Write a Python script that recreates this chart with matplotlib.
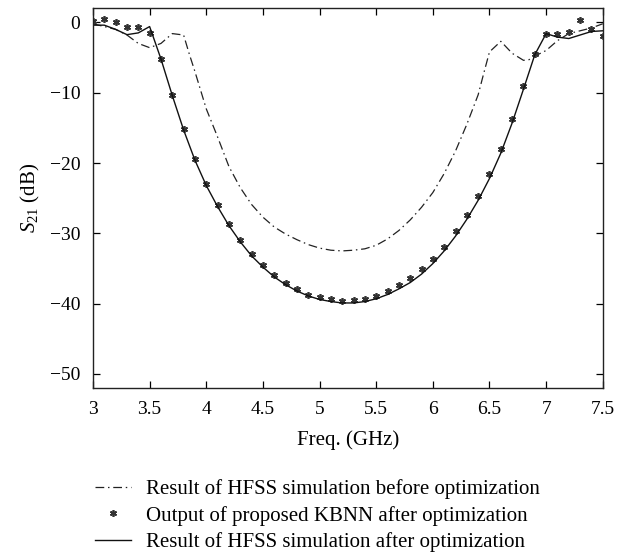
import matplotlib
matplotlib.use("Agg")
import matplotlib.pyplot as plt
import numpy as np

plt.rcParams['font.family'] = ['Liberation Serif', 'DejaVu Serif']
plt.rcParams['mathtext.fontset'] = 'custom'
plt.rcParams['mathtext.rm'] = 'Liberation Serif'
plt.rcParams['mathtext.it'] = 'Liberation Serif:italic'

# Before optimization (HFSS)
freq_before = [3.0, 3.1, 3.2, 3.3, 3.4, 3.5, 3.6, 3.7, 3.8, 3.85, 3.9, 4.0, 4.1, 4.2, 4.3, 4.4,
               4.5, 4.6, 4.7, 4.8, 4.9, 5.0, 5.1, 5.2, 5.3, 5.4, 5.5, 5.6, 5.7, 5.8, 5.9,
               6.0, 6.1, 6.2, 6.3, 6.4, 6.45, 6.5, 6.6, 6.7, 6.8, 6.85, 6.9, 7.0, 7.1, 7.2,
               7.3, 7.4, 7.5]
s21_before = [-0.2, -0.6, -1.0, -1.8, -3.0, -3.6, -3.0, -1.6, -1.8, -4.5, -7.0, -12.3, -16.3,
              -20.5, -23.5, -25.9, -27.7, -29.1, -30.1, -30.9, -31.6, -32.1, -32.4, -32.5,
              -32.4, -32.2, -31.7, -30.8, -29.6, -28.1, -26.3, -24.2, -21.5, -18.3, -14.5,
              -10.3, -7.2, -4.2, -2.7, -4.4, -5.4, -5.3, -4.8, -4.0, -2.6, -1.6, -1.2,
              -0.8, -0.2]

# KBNN output after optimization
freq_kbnn = [3.0, 3.1, 3.2, 3.3, 3.4, 3.5, 3.6, 3.7, 3.8, 3.9, 4.0, 4.1, 4.2, 4.3, 4.4, 4.5,
             4.6, 4.7, 4.8, 4.9, 5.0, 5.1, 5.2, 5.3, 5.4, 5.5, 5.6, 5.7, 5.8, 5.9, 6.0,
             6.1, 6.2, 6.3, 6.4, 6.5, 6.6, 6.7, 6.8, 6.9, 7.0, 7.1, 7.2, 7.3, 7.4, 7.5]
s21_kbnn = [0.2, 0.5, 0.0, -0.6, -0.6, -1.5, -5.2, -10.3, -15.1, -19.4, -23.0, -26.0, -28.7,
            -31.0, -32.9, -34.5, -35.9, -37.0, -37.9, -38.7, -39.1, -39.4, -39.6, -39.5,
            -39.3, -38.9, -38.2, -37.3, -36.4, -35.1, -33.6, -31.9, -29.7, -27.4, -24.7,
            -21.6, -18.0, -13.7, -9.1, -4.5, -1.6, -1.6, -1.4, 0.3, -0.95, -2.0]

# After optimization (HFSS)
freq_after = [3.0, 3.1, 3.2, 3.3, 3.4, 3.5, 3.6, 3.7, 3.8, 3.9, 4.0, 4.1, 4.2, 4.3, 4.4, 4.5,
              4.6, 4.7, 4.8, 4.9, 5.0, 5.1, 5.2, 5.3, 5.4, 5.5, 5.6, 5.7, 5.8, 5.9, 6.0,
              6.1, 6.2, 6.3, 6.4, 6.5, 6.6, 6.7, 6.8, 6.9, 7.0, 7.1, 7.2, 7.3, 7.4, 7.5]
s21_after = [-0.4, -0.4, -1.0, -1.75, -1.5, -0.6, -5.2, -10.4, -15.3, -19.6, -23.2, -26.2,
             -28.9, -31.2, -33.2, -34.8, -36.2, -37.3, -38.2, -38.9, -39.4, -39.7, -39.9,
             -39.9, -39.7, -39.3, -38.7, -37.9, -37.0, -35.8, -34.3, -32.5, -30.4, -28.0,
             -25.3, -22.2, -18.6, -14.3, -9.5, -4.6, -1.6, -2.1, -2.3, -1.8, -1.3, -1.2]

xticks = [3, 3.5, 4, 4.5, 5, 5.5, 6, 6.5, 7, 7.5]
xticklabels = ['3', '3.5', '4', '4.5', '5', '5.5', '6', '6.5', '7', '7.5']
yticks = [0, -10, -20, -30, -40, -50]
yticklabels = ['0', '\u221210', '\u221220', '\u221230', '\u221240', '\u221250']

labels = ['Result of HFSS simulation before optimization',
          'Output of proposed KBNN after optimization',
          'Result of HFSS simulation after optimization']

fig = plt.figure(figsize=(6.24, 5.52), dpi=100)
ax = fig.add_axes([0.149, 0.297, 0.817, 0.688])

l1, = ax.plot(freq_before, s21_before, color='#222222', lw=0.9,
              linestyle=(0, (7, 3, 1.2, 3)))
l2, = ax.plot(freq_kbnn, s21_kbnn, linestyle='none', marker=(6, 2, 0),
              markersize=5, markeredgewidth=1.2, color='#333333')
l3, = ax.plot(freq_after, s21_after, color='#111111', lw=1.0)

ax.set_xlim(3, 7.5)
ax.set_ylim(-52, 2)
ax.set_xticks(xticks)
ax.set_xticklabels(xticklabels)
ax.set_yticks(yticks)
ax.set_yticklabels(yticklabels)
ax.tick_params(direction='in', top=True, right=True, labelsize=14, length=5,
               width=0.9)
ax.tick_params(axis='x', pad=9.5)
ax.tick_params(axis='y', pad=9)
for s in ax.spines.values():
    s.set_linewidth(1.0)
    s.set_color('#222222')

ax.set_xlabel('Freq. (GHz)', fontsize=15, labelpad=9)
ax.set_ylabel('$S_{21}$ (dB)', fontsize=15, labelpad=6)

fig.legend([l1, l2, l3], labels, loc='upper left', bbox_to_anchor=(0.152, 0.132),
           frameon=False, fontsize=15, handlelength=1.75, handletextpad=0.7,
           labelspacing=0.32, borderaxespad=0, borderpad=0)

fig.savefig('out.png', dpi=100)
